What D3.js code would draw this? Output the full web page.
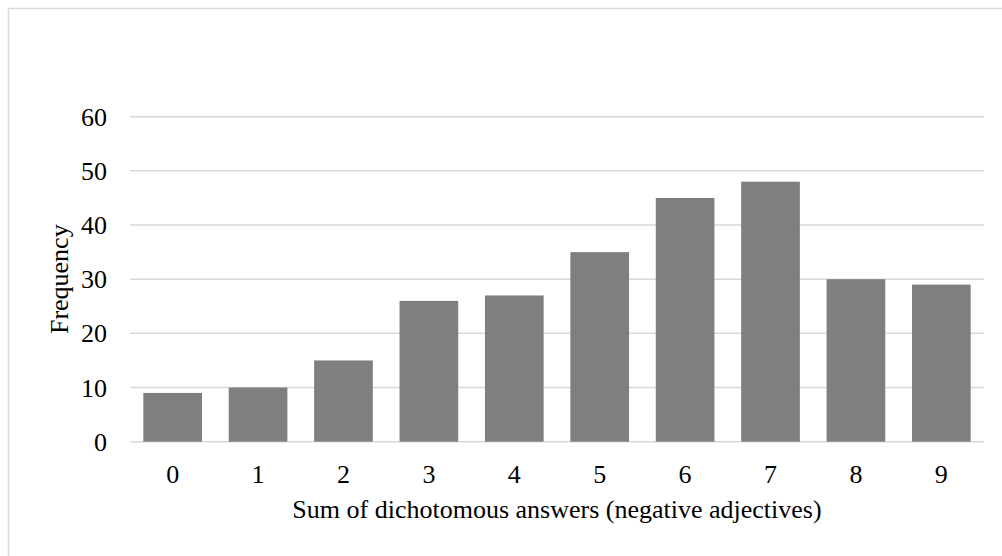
<!DOCTYPE html>
<html>
<head>
<meta charset="utf-8">
<script src="https://cdn.jsdelivr.net/npm/d3@7"></script>
<style>
  body { margin: 0; background: #fff; }
  text { font-family: "Liberation Serif", "Times New Roman", serif; fill: #000; }
</style>
</head>
<body>
<div id="viz"></div>
<script>
const categories = ["0", "1", "2", "3", "4", "5", "6", "7", "8", "9"];
const frequency = [9, 10, 15, 26, 27, 35, 45, 48, 30, 29];
const yTicks = [0, 10, 20, 30, 40, 50, 60];

const width = 1002;
const height = 556;
const margin = { left: 130, right: 18, top: 116.7, bottom: 114.3 };

const svg = d3.select("#viz").append("svg")
    .attr("width", width)
    .attr("height", height);

// outer chart frame
svg.append("rect")
    .attr("x", 8.5)
    .attr("y", 8.5)
    .attr("width", 1100)
    .attr("height", 700)
    .attr("fill", "none")
    .attr("stroke", "#d9d9d9")
    .attr("stroke-width", 1.5);

const xScale = d3.scaleBand()
    .domain(categories)
    .range([margin.left, width - margin.right])
    .paddingInner(0.313)
    .paddingOuter(0.156);

const yScale = d3.scaleLinear()
    .domain([0, 60])
    .range([height - margin.bottom, margin.top]);

// gridlines
svg.selectAll(".grid")
    .data(yTicks)
    .join("line")
        .attr("class", "grid")
        .attr("x1", margin.left)
        .attr("x2", width - margin.right)
        .attr("y1", d => yScale(d))
        .attr("y2", d => yScale(d))
        .attr("stroke", "#d9d9d9")
        .attr("stroke-width", 1.5);

svg.selectAll(".bar")
    .data(frequency)
    .join("rect")
        .attr("class", "bar")
        .attr("fill", "#7f7f7f")
        .attr("x", (d, i) => xScale(categories[i]))
        .attr("width", xScale.bandwidth())
        .attr("y", d => yScale(d))
        .attr("height", d => yScale(0) - yScale(d));

// y axis labels
const yAxis = d3.axisLeft(yScale).tickValues(yTicks).tickSize(0).tickPadding(0);
svg.append("g")
    .attr("transform", `translate(107,0)`)
    .call(yAxis)
    .call(g => g.select(".domain").remove())
    .selectAll("text")
        .style("font-size", "26px")
        .style("font-family", "'Liberation Serif', serif")
        .attr("dy", "0.33em");

// x axis labels
const xAxis = d3.axisBottom(xScale).tickSize(0).tickPadding(0);
svg.append("g")
    .attr("transform", `translate(0,${yScale(0)})`)
    .call(xAxis)
    .call(g => g.select(".domain").remove())
    .selectAll("text")
        .style("font-size", "26px")
        .style("font-family", "'Liberation Serif', serif")
        .attr("dy", null)
        .attr("y", 41);

svg.append("text")
    .attr("x", (margin.left + width - margin.right) / 2)
    .attr("y", 518)
    .style("text-anchor", "middle")
    .style("font-size", "26px")
    .text("Sum of dichotomous answers (negative adjectives)");

svg.append("text")
    .attr("transform", `translate(68,${(yScale(0) + yScale(60)) / 2}) rotate(-90)`)
    .style("text-anchor", "middle")
    .style("font-size", "26px")
    .text("Frequency");
</script>
</body>
</html>
